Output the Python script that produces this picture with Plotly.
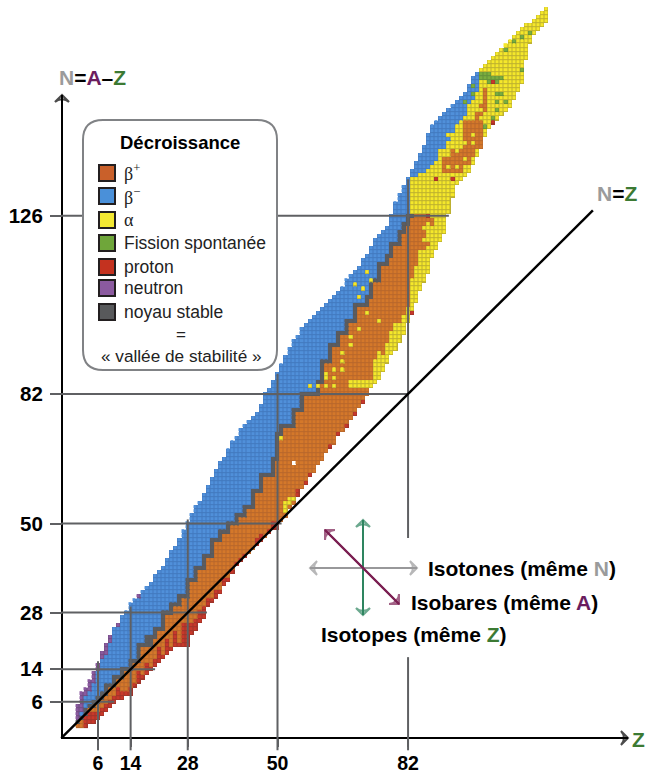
import numpy as np
import plotly.graph_objects as go

W, H = 646, 771
X0, XS = 73.5, 4.08     # page px of Z=0, px per Z
Y0, YS = 726.0, 4.05    # page px of N=0, px per N

# ---------- data ----------
Z_VALUES = list(range(1, 117))
N_MIN = [0,0,0,1,1,2,3,4,5,6,7,7,8,8,10,11,12,13,14,15,16,17,18,19,20,20,20,20,23,24,
         26,27,30,31,32,33,35,36,38,40,41,42,43,44,45,46,47,48,49,49,51,52,54,55,57,59,60,62,63,65,
         66,68,69,70,72,73,74,76,77,79,80,82,84,85,86,88,90,92,93,95,97,100,102,105,108,110,112,116,118,120,
         122,127,131,134,135,136,137,139,141,143,146,148,149,150,151,152,153,155,157,159,165,169,171,172,173,174]
N_MAX = [5,8,9,11,13,15,18,20,22,24,25,27,28,30,31,32,33,34,35,37,38,39,41,43,44,46,48,50,52,54,
         55,57,59,61,63,65,66,68,70,71,73,74,75,76,77,79,82,83,85,87,89,91,93,95,96,98,99,100,101,102,
         103,104,105,106,107,108,110,111,112,113,115,116,118,120,121,122,123,126,129,131,133,135,137,139,141,143,146,148,149,150,
         151,152,153,154,155,156,158,160,161,162,163,164,165,166,167,168,169,170,171,172,173,173,174,175,176,177]
# stable staircase for Z = 1..83 (lowest, highest N)
STABLE_LO = [1,2,3,5,5,6,7,8,10,10,12,12,14,14,16,16,20,20,20,22,24,24,28,28,30,30,32,32,36,36,
             39,39,42,42,46,46,48,48,50,50,52,52,54,54,58,58,62,62,62,66,72,74,74,74,78,78,82,82,82,82,
             85,90,90,94,94,97,97,100,100,104,104,104,106,110,110,114,114,116,119,119,122,124,126]
STABLE_HI = [1,2,4,5,6,7,8,10,10,12,12,14,14,16,16,20,20,22,22,24,24,28,28,30,30,32,32,36,36,39,
             39,42,42,46,46,48,48,50,50,52,52,54,54,58,58,62,62,62,66,72,74,74,74,78,78,82,82,82,82,85,
             90,90,94,94,97,97,100,100,104,104,104,106,110,110,114,114,116,119,119,122,124,126,126]
# Z = 84..99: first N that is beta-minus
BLUE_FROM = [136,137,137,138,139,140,142,143,145,147,149,150,151,154,155,157]

PROTON = [(3,0,2),(4,1,3),(5,1,3),(6,2,3),(7,3,4),(8,4,5),(9,5,6),(10,6,7),(11,7,9),(12,7,8),(13,8,8),(14,8,9),
          (15,10,10),(16,11,13),(17,12,12),(18,13,15),(19,14,14),(20,15,16),(21,16,19),(22,17,17),(23,18,21),(24,19,19),
          (25,20,23),(26,20,20),(27,20,25),(28,20,25),(29,23,25),(30,24,26),(31,26,28),(32,27,29),(33,30,31),(34,31,31),
          (35,32,33),(36,33,33),(37,35,36),(38,36,36),(39,38,38),(40,40,40),(41,41,41),(42,42,42),(45,45,46),(46,46,47),
          (48,48,48),(49,49,50),(50,49,50),(55,57,58),(57,60,60),(58,62,62),(63,69,69),(65,72,72),(67,74,74),(69,77,77),
          (71,80,80),(73,84,84),(75,86,86),(77,90,90),(79,92,92),(83,102,102),(87,126,126)]
PROTON_LATE = [(89,135,135),(93,135,135),(103,159,159),(102,147,147),(103,149,149)]
NEUTRON = [(1,2,5),(2,4,8),(3,8,9),(4,9,11),(5,11,13),(6,14,15),(7,17,18),(8,18,20),(9,21,22),(11,25,25),(16,32,32)]
ALPHA = [(52,53,55),(53,55,56),(54,56,56),(51,71,71),(58,84,84),(60,84,84),(62,84,84),(62,86,87),(64,84,84),(64,86,86),(64,88,88),
         (66,88,88),(66,90,90),(66,92,92),(68,94,94),(68,96,96),(70,98,98),(72,102,102),(68,84,85),(69,84,85),(70,84,85),(71,84,85),
         (72,84,85),(73,84,85),(74,85,90),(75,86,92),(76,87,91),(77,88,94),(78,90,97),(79,93,99),(80,94,99),(81,97,101),
         (82,100,103),(83,103,110),(84,105,113),(85,108,117),(86,110,117),(86,120,120),(86,123,123),(87,112,118),(87,120,124),
         (83,127,135),(84,127,135),(85,127,136),(86,127,136),(87,127,137),
         (75,100,100),(72,112,112),(73,110,110),(70,106,106),(69,109,109),(71,108,108),(86,136,136),(88,138,138),(90,142,142),(92,146,146)]
ORANGE = [(91,137,140),(92,137,140),(93,137,142),(94,137,142),(95,137,142),(96,139,149),(97,139,149),(98,141,149),
          (99,143,151),(100,143,153),(101,152,157),(88,124,125)]
ALPHA_DOTS = [(92,138,138),(94,138,138),(96,140,140),(94,142,142),(98,146,146),(98,144,144),(96,144,144),
              (100,150,150),(100,152,152),(98,140,140)]
FISSION = [(96,154,154),(98,156,156),(98,158,158),(100,160,161),(101,160,161),(102,161,161),(101,148,148),(103,150,150),
           (104,156,156),(105,156,156),(104,154,154),(106,154,154),(104,152,152),(110,162,162),(110,170,170),
           (106,167,167),(112,171,171),(108,169,169),(102,159,160),(103,160,160),(104,159,160),(105,160,160)]
HOLES = [(54,65,65)]

TICKS_Z = [6, 14, 28, 50, 82]
TICKS_N = [6, 14, 28, 50, 82, 126]
# guide lines: magic number, upper (or farther) end on the other axis
GUIDE_Z = [(6,-6,16),(14,-6,29.5),(28,-6,51),(50,-6,87),(82,-6,17),(82,46.4,135)]
GUIDE_N = [(6,10),(14,20),(28,32.7),(50,51),(82,82),(126,92)]
LEGEND = [("β<sup>+</sup>","#c9602a",True),("β<sup>−</sup>","#4a90d9",True),("α","#f4e933",True),
          ("Fission spontanée","#6fa63a",False),("proton","#c4321f",False),("neutron","#8b5a9f",False),("noyau stable","#58595b",False)]

COLORS = ["#d4782a","#5090da","#f5e82a","#7aad3e","#c8382a","#8b5a9f","#5c5d60"]
DARK   = ["#b8672c","#4279bf","#bdb030","#63903a","#a0342a","#6f4c82","#58595c"]
C_GUIDE = "#5f6063"
GRAY, PURPLE, GREEN = "#9b9b9b", "#6b1d5e", "#3c7a33"
FONT = "Liberation Sans"

# ---------- build the cell matrix ----------
zs = np.arange(0, 118); ns = np.arange(0, 178)
grid = np.full((len(ns), len(zs)), np.nan)
for i, z in enumerate(Z_VALUES):
    for n in range(N_MIN[i], N_MAX[i] + 1):
        if z <= 83:
            v = 7 if STABLE_LO[i] <= n <= STABLE_HI[i] else (1 if n < STABLE_LO[i] else 2)
        else:
            top = BLUE_FROM[z - 84] if z - 84 < len(BLUE_FROM) else 999
            if n >= top: v = 2
            else: v = 1 if z < 88 else 3
        grid[n, z] = v
def paint(cells, v):
    for z, a, b in cells:
        for n in range(a, b + 1):
            if not np.isnan(grid[n, z]):
                grid[n, z] = v
paint(PROTON, 5); paint(NEUTRON, 6); paint(ALPHA, 3); paint(ORANGE, 1)
paint(ALPHA_DOTS, 3); paint(FISSION, 4); paint(PROTON_LATE, 5)
for z, a, b in HOLES:
    grid[a:b + 1, z] = np.nan

def scale(cols):
    s = []
    for i, c in enumerate(cols):
        s += [[i / len(cols), c], [(i + 1) / len(cols), c]]
    return s

fig = go.Figure()
fig.add_trace(go.Heatmap(x=zs, y=ns, z=grid, colorscale=scale(DARK), zmin=.5, zmax=7.5, showscale=False, hoverinfo="skip"))
fig.add_trace(go.Heatmap(x=zs, y=ns, z=grid, colorscale=scale(COLORS), zmin=.5, zmax=7.5, showscale=False, hoverinfo="skip", xgap=1, ygap=1))

# ---------- page helpers ----------
px = lambda v: v / W
py = lambda v: 1 - v / H
def Zat(v): return (v - X0) / XS
def Nat(v): return (Y0 - v) / YS

shapes = []
for z, a, b in GUIDE_Z:
    shapes.append(dict(type="line", x0=z, x1=z, y0=a, y1=b, line=dict(color=C_GUIDE, width=2), layer="above"))
for n, e in GUIDE_N:
    shapes.append(dict(type="line", x0=-3, x1=e, y0=n, y1=n, line=dict(color=C_GUIDE, width=2), layer="above"))
shapes.append(dict(type="line", x0=-3, y0=-3, x1=127.3, y1=127.3, line=dict(color="black", width=2.4), layer="above"))

# legend panel
l, r, t, b, rad = 83, 277, 120, 370, 20
path = (f"M{px(l+rad)},{py(t)} L{px(r-rad)},{py(t)} Q{px(r)},{py(t)} {px(r)},{py(t+rad)} "
        f"L{px(r)},{py(b-rad)} Q{px(r)},{py(b)} {px(r-rad)},{py(b)} L{px(l+rad)},{py(b)} "
        f"Q{px(l)},{py(b)} {px(l)},{py(b-rad)} L{px(l)},{py(t+rad)} Q{px(l)},{py(t)} {px(l+rad)},{py(t)} Z")
shapes.append(dict(type="path", xref="paper", yref="paper", path=path, fillcolor="white",
                   line=dict(color="#808285", width=2), layer="above"))

ann = []
def txt(x, y, s, size, anchor="left", family=FONT, color="black"):
    ann.append(dict(xref="paper", yref="paper", x=px(x), y=py(y), text=s, showarrow=False, xanchor=anchor,
                    yanchor="middle", font=dict(family=family, size=size, color=color), borderpad=0))
txt(180, 142, "<b>Décroissance</b>", 18.5, "center")
rows = [173, 196, 220, 243, 267, 288, 312]
for (lab, col, serif), y in zip(LEGEND, rows):
    shapes.append(dict(type="rect", xref="paper", yref="paper", x0=px(99), x1=px(115), y0=py(y - 8), y1=py(y + 8),
                       fillcolor=col, line=dict(color="#231f20", width=2), layer="above"))
    txt(123, y, lab, 17.5 if not serif else 18, family="Liberation Serif" if serif else FONT, color="#222222")
txt(181, 334, "=", 17, "center", color="#222222")
txt(181, 356, "« vallée de stabilité »", 17.2, "center", color="#222222")

txt(58, 78, f'<b><span style="color:{GRAY}">N</span>=<span style="color:{PURPLE}">A</span>–<span style="color:{GREEN}">Z</span></b>', 21)
txt(596, 193, f'<b><span style="color:{GRAY}">N</span>=<span style="color:{GREEN}">Z</span></b>', 21)
txt(631, 739, f'<b><span style="color:{GREEN}">Z</span></b>', 21)
txt(427, 568, f'<b>Isotones (même <span style="color:{GRAY}">N</span>)</b>', 21)
txt(410, 602, f'<b>Isobares (même <span style="color:{PURPLE}">A</span>)</b>', 21)
txt(320, 634, f'<b>Isotopes (même <span style="color:{GREEN}">Z</span>)</b>', 21)

def arrow(x0, y0, x1, y1, color, width, both=False, size=10):
    pts = [((x0, y0), (x1, y1))]
    if both:
        pts.append(((x1, y1), (x0, y0)))
    for (a, c), (d, e) in pts:
        fig.add_trace(go.Scatter(x=[Zat(a), Zat(d)], y=[Nat(c), Nat(e)], mode="lines+markers", hoverinfo="skip", cliponaxis=False,
                                 line=dict(color=color, width=width),
                                 marker=dict(symbol="arrow-wide-open", angleref="previous", size=[0, size], color=color,
                                             line=dict(color=color, width=width))))
arrow(61, 738, 628, 738, "black", 2)
arrow(62, 739, 62, 95, "black", 2)
arrow(310, 568, 417, 568, "#98989a", 2, both=True)
arrow(363, 520, 363, 615, "#2e8560", 2, both=True)
arrow(325, 530, 399, 604, "#7b1f52", 2, both=True)

tick = dict(showgrid=False, zeroline=False, showline=False, ticks="outside", tickwidth=2, tickcolor=C_GUIDE,
            anchor="free", fixedrange=True, automargin=False)
fig.update_layout(
    width=W, height=H, margin=dict(l=0, r=0, t=0, b=0, autoexpand=False), paper_bgcolor="white", plot_bgcolor="white", showlegend=False,
    xaxis=dict(range=[-X0 / XS, (W - X0) / XS], tickmode="array", tickvals=TICKS_Z, ticktext=[str(v) for v in TICKS_Z],
               position=1 - 738 / H, ticklen=8, tickfont=dict(family=FONT, size=19.5, color="black", weight="bold"), **tick),
    yaxis=dict(range=[(Y0 - H) / YS, Y0 / YS], tickmode="array", tickvals=TICKS_N, ticktext=[str(v) for v in TICKS_N],
               position=62 / W, ticklen=12, ticklabelstandoff=3, tickfont=dict(family=FONT, size=20.5, color="black", weight="bold"), **tick),
    shapes=shapes, annotations=ann)
fig.write_html("out.html", post_script="document.body.style.margin='0';document.body.style.overflow='hidden';",
               config=dict(displayModeBar=False))
